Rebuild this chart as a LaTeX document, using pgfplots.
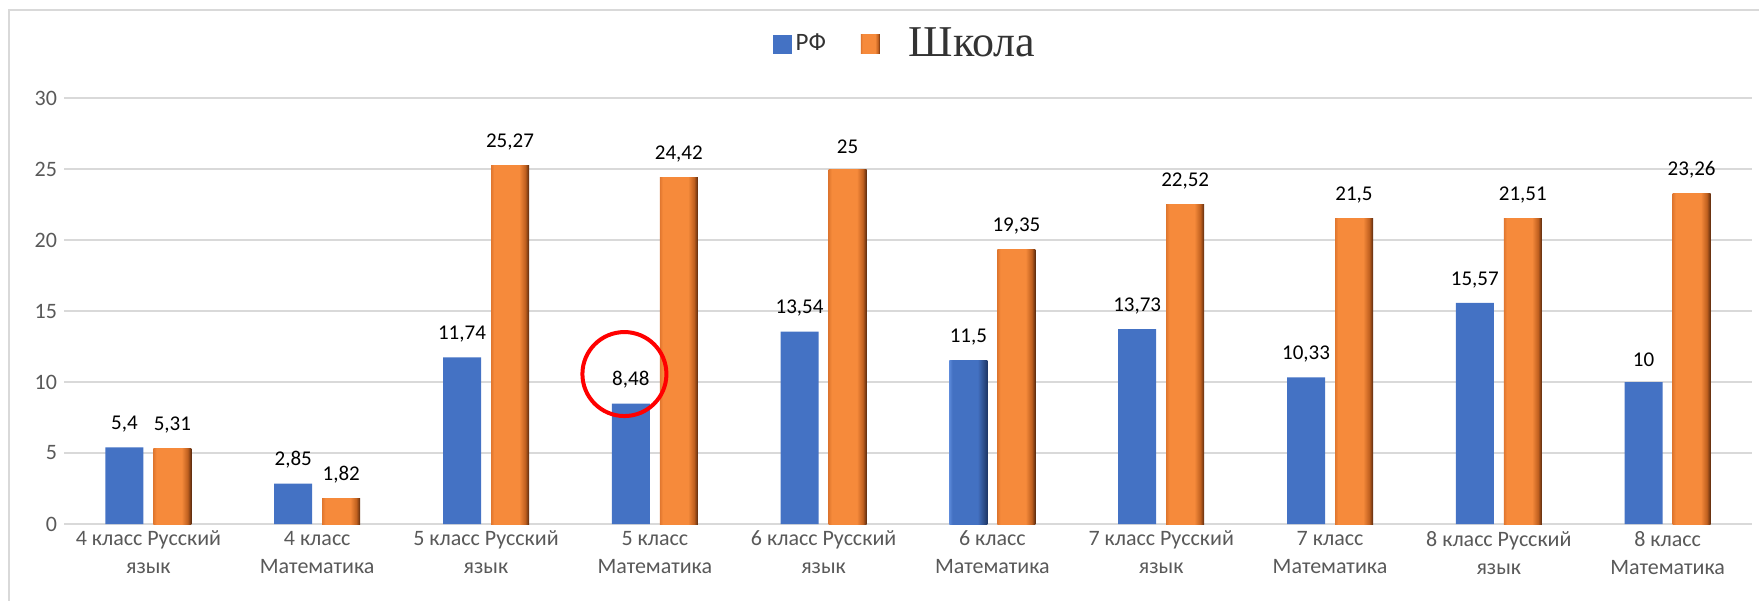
\documentclass[border=0pt]{standalone}
\usepackage{pgfplots}
\pgfplotsset{compat=1.18}
\usepackage{fontspec}
\setmainfont{Carlito}
\newfontfamily\seriffont{Liberation Serif}

\definecolor{rfblue}{HTML}{4472C4}
\definecolor{gridgray}{HTML}{D9D9D9}
\definecolor{labgray}{HTML}{595959}
\definecolor{obL}{HTML}{E0772F}
\definecolor{obM}{HTML}{F68A3B}
\definecolor{obD1}{HTML}{C0601F}
\definecolor{obD2}{HTML}{5A2A0E}
\definecolor{bbL}{HTML}{5B88D8}
\definecolor{bbM}{HTML}{4371C2}
\definecolor{bbD}{HTML}{1E3766}

% bevel-like bars: light left edge, dark right edge
\pgfdeclarehorizontalshading{orangebar}{100bp}{color(0bp)=(obL); color(25bp)=(obL);
  color(29bp)=(obM); color(62bp)=(obM); color(70bp)=(obD1); color(75bp)=(obD2); color(100bp)=(obD2)}
\pgfdeclarehorizontalshading{bluebar}{100bp}{color(0bp)=(bbL); color(25bp)=(bbL);
  color(29bp)=(bbM); color(62bp)=(bbM); color(75bp)=(bbD); color(100bp)=(bbD)}

% each shaded bar is its own plot, so that the shading fits that bar
\pgfplotsset{
  school/.style={shade, shading=orangebar, draw=none, bar shift=12pt,
                 nodes near coords, forget plot},
}

\begin{document}
\begin{tikzpicture}
\useasboundingbox (0,0) rectangle (879.5pt,300pt);
\draw[gridgray, line width=1pt] (4.25pt,-1pt) -- (4.25pt,295pt) -- (881pt,295pt);
\begin{axis}[
    at={(32pt,38pt)}, anchor=south west,
    scale only axis,
    width=844pt, height=213pt,
    ybar,
    bar width=19pt,
    xmin=-0.5, xmax=9.5,
    ymin=0, ymax=30,
    ytick={0,5,...,30},
    xtick={0,...,9},
    xticklabels={{4 класс Русский\\язык},{4 класс\\Математика},
                 {5 класс Русский\\язык},{5 класс\\Математика},
                 {6 класс Русский\\язык},{6 класс\\Математика},
                 {7 класс Русский\\язык},{7 класс\\Математика},
                 {8 класс Русский\\язык},{8 класс\\Математика}},
    xticklabel style={align=center, font=\fontsize{11}{14}\selectfont, text=labgray},
    yticklabel style={font=\fontsize{11}{12}\selectfont, text=labgray,
        /pgf/number format/assume math mode=true},
    ymajorgrids,
    grid style={draw=gridgray, line width=0.8pt},
    axis line style={draw=none},
    major tick length=0pt,
    legend style={at={(0.5,1)}, xshift=-1pt, yshift=27pt, anchor=center, draw=none,
        legend columns=2, font=\fontsize{12.5}{14}\selectfont, text=black!80,
        /tikz/every even column/.append style={column sep=15.5pt}},
    legend image code/.code={\path[#1, draw=none] (0pt,-4.75pt) rectangle (9.5pt,4.75pt);},
    nodes near coords style={font=\fontsize{10.5}{12}\selectfont, text=black, yshift=4pt,
        /pgf/number format/fixed, /pgf/number format/precision=2,
        /pgf/number format/use comma, /pgf/number format/assume math mode=true},
]
\addplot[fill=rfblue, draw=none, bar shift=-12pt, nodes near coords]
  coordinates {(0,5.4) (1,2.85) (2,11.74) (3,8.48) (4,13.54)
               (5,11.5) (6,13.73) (7,10.33) (8,15.57) (9,10)};
\addlegendentry{РФ}
\addplot[school] coordinates {(0,5.31)};
\addplot[school] coordinates {(1,1.82)};
\addplot[school] coordinates {(2,25.27)};
\addplot[school] coordinates {(3,24.42)};
\addplot[school] coordinates {(4,25)};
\addplot[school] coordinates {(5,19.35)};
\addplot[school] coordinates {(6,22.52)};
\addplot[school] coordinates {(7,21.5)};
\addplot[school] coordinates {(8,21.51)};
\addplot[school] coordinates {(9,23.26)};
\addlegendimage{shade, shading=orangebar, draw=none}
\addlegendentry{\hspace{12.5pt}\seriffont\fontsize{22}{25}\selectfont Школа}
% the one selected bar in the source
\addplot[shade, shading=bluebar, draw=none, bar shift=-12pt, forget plot]
  coordinates {(5,11.5)};
\draw[red, line width=2pt] (axis cs:2.82,10.56) circle[radius=21pt];
\end{axis}
\end{tikzpicture}
\end{document}
